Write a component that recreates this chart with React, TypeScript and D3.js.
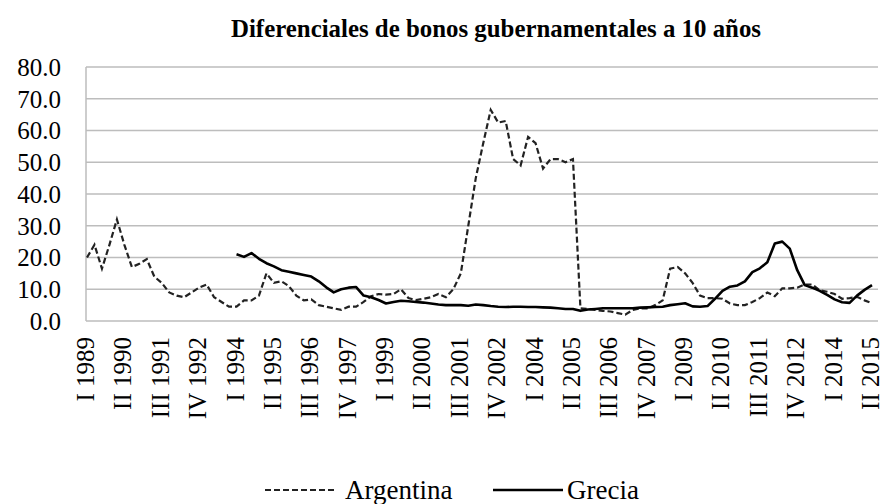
import * as d3 from 'd3';

const WIDTH = 885;
const HEIGHT = 504;
const MARGIN = { top: 67, right: 7, bottom: 183, left: 86 };

const years = d3.range(1989, 2016);
const romans = ['I', 'II', 'III', 'IV'];

// quarters from I 1989 to II 2015
const quarters: string[] = years
    .flatMap((y) => romans.map((r) => `${r} ${y}`))
    .slice(0, 106);

const argentina: number[] = [
    20, 24, 16.5, 24, 32, 24, 17, 18, 19.5, 14,
    12, 9, 8, 7.5, 9, 10.5, 11.5, 7.5, 6, 4.5,
    4.5, 6.5, 6.5, 8, 15, 12, 12.5, 11, 8, 6.5,
    6.8, 5, 4.5, 4, 3.5, 4.5, 4.5, 6, 7.8, 8.5,
    8.3, 8.5, 10, 7.2, 6.6, 7, 7.5, 8.5, 7.5, 10,
    15, 30, 45, 56, 66.5, 62.5, 63, 51, 49, 58,
    56, 48, 51, 51, 50, 51, 4, 3.8, 3.5, 3.2,
    3, 2.5, 2, 3.5, 4, 4, 5, 6.5, 16.5, 17,
    15, 12, 8, 7.2, 7.2, 7, 5.5, 5, 5, 6,
    7.2, 9, 7.8, 10.3, 10.3, 10.5, 11.5, 11.5, 9.7, 9.2,
    8.5, 7, 7.2, 7.6, 6.5, 5.6,
];

const grecia: (number | null)[] = [
    null, null, null, null, null, null, null, null, null, null,
    null, null, null, null, null, null, null, null, null, null,
    21, 20.2, 21.4, 19.6, 18.2, 17.2, 16, 15.5, 15, 14.5,
    14, 12.5, 10.6, 9, 10, 10.5, 10.7, 8, 7.5, 6.6,
    5.5, 6, 6.4, 6.2, 6, 5.8, 5.5, 5.2, 5, 5,
    5, 4.8, 5.2, 5, 4.7, 4.5, 4.4, 4.5, 4.5, 4.4,
    4.4, 4.3, 4.2, 4, 3.8, 3.8, 3.2, 3.6, 3.8, 4,
    4, 4, 4, 4, 4.2, 4.3, 4.4, 4.5, 5, 5.3,
    5.6, 4.6, 4.5, 4.7, 7, 9.5, 10.8, 11.2, 12.5, 15.4,
    16.6, 18.5, 24.4, 25, 22.8, 16, 11.3, 10.5, 9.5, 8.2,
    6.8, 5.9, 5.7, 8, 9.8, 11.3,
];

const yTicks = [0, 10, 20, 30, 40, 50, 60, 70, 80];

const SERIF = 'Liberation Serif, Times New Roman, Times, serif';

export default function App() {
    const boundsWidth = WIDTH - MARGIN.left - MARGIN.right;
    const boundsHeight = HEIGHT - MARGIN.top - MARGIN.bottom;

    const xScale = d3
        .scalePoint<string>()
        .domain(quarters)
        .range([1, boundsWidth - 6]);
    const yScale = d3.scaleLinear().domain([0, 80]).range([boundsHeight, 0]);

    const lineBuilder = d3
        .line<number | null>()
        .defined((d) => d !== null)
        .x((_, i) => xScale(quarters[i]) ?? 0)
        .y((d) => yScale(d as number));

    const argPath = lineBuilder(argentina) ?? '';
    const grePath = lineBuilder(grecia) ?? '';

    const labelIdx = d3.range(0, quarters.length, 5);

    return (
        <div style={{ position: 'absolute', left: 0, top: 0 }}>
            <svg width={WIDTH} height={HEIGHT} style={{ display: 'block', background: '#fff', fontFamily: SERIF }}>
                <text
                    x={496}
                    y={37}
                    textAnchor="middle"
                    fontWeight="bold"
                    fontSize={25}
                    textLength={530}
                    lengthAdjust="spacingAndGlyphs"
                >
                    Diferenciales de bonos gubernamentales a 10 años
                </text>
                <g transform={`translate(${MARGIN.left},${MARGIN.top})`}>
                    {yTicks.map((t) => (
                        <g key={t}>
                            <line
                                x1={0}
                                x2={boundsWidth}
                                y1={yScale(t)}
                                y2={yScale(t)}
                                stroke="#bdbdbd"
                                strokeWidth={1.5}
                            />
                            <text
                                x={-25}
                                y={yScale(t)}
                                dy="0.35em"
                                textAnchor="end"
                                fontSize={25}
                            >
                                {t.toFixed(1)}
                            </text>
                        </g>
                    ))}
                    <line x1={0} x2={0} y1={0} y2={boundsHeight} stroke="#bdbdbd" strokeWidth={1.5} />
                    {labelIdx.map((i) => (
                        <text
                            key={i}
                            transform={`translate(${xScale(quarters[i])},${boundsHeight + 16}) rotate(-90)`}
                            textAnchor="end"
                            dy="0.28em"
                            fontSize={25}
                        >
                            {quarters[i]}
                        </text>
                    ))}
                    <path
                        d={argPath}
                        fill="none"
                        stroke="#222"
                        strokeWidth={2.2}
                        strokeDasharray="6,3"
                    />
                    <path d={grePath} fill="none" stroke="#000" strokeWidth={2.6} strokeLinejoin="round" />
                </g>
                <g fontSize={27}>
                    <line x1={265} x2={337} y1={490} y2={490} stroke="#222" strokeWidth={2} strokeDasharray="6,3" />
                    <text x={345} y={499}>Argentina</text>
                    <line x1={493} x2={563} y1={490} y2={490} stroke="#000" strokeWidth={2.6} />
                    <text x={567} y={499}>Grecia</text>
                </g>
            </svg>
        </div>
    );
}
